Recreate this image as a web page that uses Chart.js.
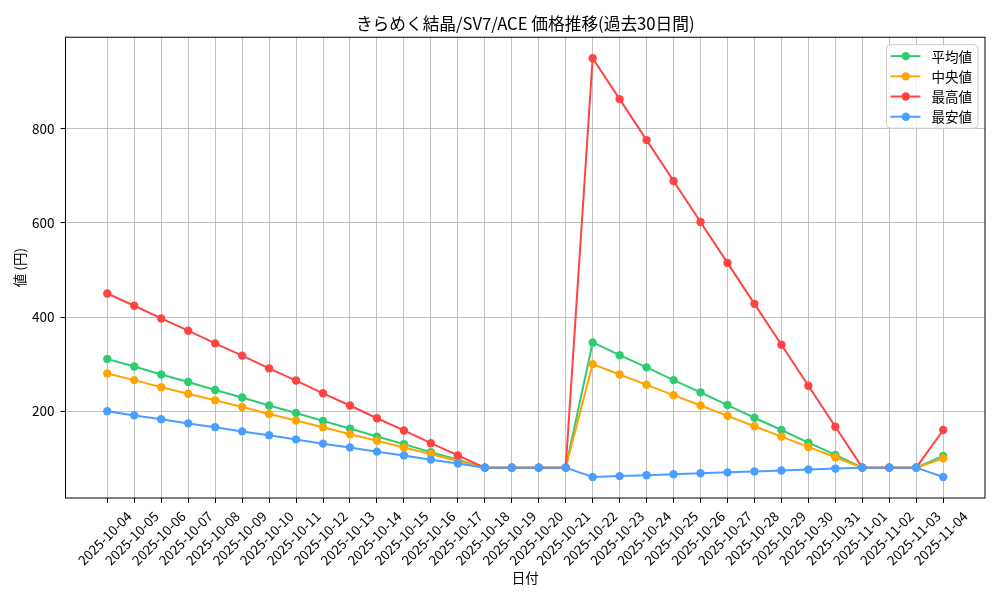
<!DOCTYPE html>
<html>
<head>
<meta charset="utf-8">
<script src="https://cdn.jsdelivr.net/npm/chart.js@4.4.1/dist/chart.umd.min.js"></script>
<style>
html,body{margin:0;padding:0;background:#fff;}
#wrap{width:1000px;height:600px;}
</style>
</head>
<body>
<div id="wrap"><canvas id="c" width="1000" height="600"></canvas></div>
<script>
const dates = ['2025-10-04','2025-10-05','2025-10-06','2025-10-07','2025-10-08','2025-10-09','2025-10-10','2025-10-11','2025-10-12','2025-10-13','2025-10-14','2025-10-15','2025-10-16','2025-10-17','2025-10-18','2025-10-19','2025-10-20','2025-10-21','2025-10-22','2025-10-23','2025-10-24','2025-10-25','2025-10-26','2025-10-27','2025-10-28','2025-10-29','2025-10-30','2025-10-31','2025-11-01','2025-11-02','2025-11-03','2025-11-04'];
const avgValues = [311,295,278,262,245,229,212,196,179,163,146,130,113,97,80,80,80,80,346,319,293,266,240,213,186,160,133,107,80,80,80,105];
const medianValues = [280,266,251,237,223,209,194,180,166,151,137,123,109,94,80,80,80,80,300,278,256,234,212,190,168,146,124,102,80,80,80,100];
const maxValues = [450,424,397,371,344,318,291,265,238,212,185,159,132,106,80,80,80,80,950,863,776,689,602,515,428,341,254,167,80,80,80,160];
const minValues = [200,191,183,174,166,157,149,140,131,123,114,106,97,89,80,80,80,80,60,62,64,66,68,70,72,74,76,78,80,80,80,60];
const yTicks = [200,400,600,800];
const seriesNames = ['平均値','中央値','最高値','最安値'];
const seriesColors = ['#2ecc71','#ffa500','#ff4444','#4a9eff'];
const titleText = 'きらめく結晶/SV7/ACE 価格推移(過去30日間)';
const xTitle = '日付';
const yTitle = '値 (円)';

const FONT = '"Noto Sans CJK JP", "Noto Sans", sans-serif';
const allSeries = [avgValues, medianValues, maxValues, minValues];
const allVals = allSeries.flat();
const dMin = Math.min(...allVals), dMax = Math.max(...allVals);
const yPad = (dMax - dMin) * 0.05;
const xPad = (dates.length - 1) * 0.05;

const datasets = allSeries.map((vals, i) => ({
  label: seriesNames[i],
  data: vals.map((v, k) => ({x: k, y: v})),
  borderColor: seriesColors[i],
  backgroundColor: seriesColors[i],
  pointBackgroundColor: seriesColors[i],
  pointBorderWidth: 0,
  pointRadius: 4.2,
  pointHoverRadius: 4.2,
  borderWidth: 2,
  tension: 0,
  order: 3 - i
}));

const framePlugin = {
  id: 'frame',
  afterDatasetsDraw(chart) {
    const {ctx, chartArea: a} = chart;
    ctx.save();
    ctx.strokeStyle = '#000';
    ctx.lineWidth = 1;
    ctx.strokeRect(a.left, a.top, a.right - a.left, a.bottom - a.top);
    // legend
    const w = 91.5, rowH = 20.2;
    const h = 83.6;
    const x0 = a.right - 7 - w, y0 = a.top + 7.4;
    const r = 4;
    ctx.beginPath();
    ctx.moveTo(x0 + r, y0);
    ctx.arcTo(x0 + w, y0, x0 + w, y0 + h, r);
    ctx.arcTo(x0 + w, y0 + h, x0, y0 + h, r);
    ctx.arcTo(x0, y0 + h, x0, y0, r);
    ctx.arcTo(x0, y0, x0 + w, y0, r);
    ctx.closePath();
    ctx.fillStyle = 'rgba(255,255,255,0.8)';
    ctx.fill();
    ctx.strokeStyle = '#cccccc';
    ctx.lineWidth = 1;
    ctx.stroke();
    ctx.font = '13.5px ' + FONT;
    ctx.textBaseline = 'middle';
    ctx.textAlign = 'left';
    seriesNames.forEach((name, i) => {
      const yy = y0 + 11.5 + i * rowH;
      ctx.strokeStyle = seriesColors[i];
      ctx.lineWidth = 2;
      ctx.beginPath();
      ctx.moveTo(x0 + 4, yy);
      ctx.lineTo(x0 + 34, yy);
      ctx.stroke();
      ctx.fillStyle = seriesColors[i];
      ctx.beginPath();
      ctx.arc(x0 + 19.3, yy, 4.2, 0, Math.PI * 2);
      ctx.fill();
      ctx.fillStyle = '#000';
      ctx.fillText(name, x0 + 45, yy + 0.5);
    });
    ctx.restore();
  }
};

new Chart(document.getElementById('c'), {
  type: 'line',
  data: {datasets},
  options: {
    responsive: false,
    animation: false,
    devicePixelRatio: 1,
    layout: {padding: {left: 0, right: 15, top: 0, bottom: 0}},
    plugins: {
      legend: {display: false},
      tooltip: {enabled: false},
      title: {
        display: true,
        text: titleText,
        fullSize: false,
        color: '#000',
        font: {family: FONT, size: 16.7, weight: 'normal', lineHeight: 1.2},
        padding: {top: 13.5, bottom: 3.7}
      }
    },
    scales: {
      x: {
        type: 'linear',
        min: -xPad,
        max: dates.length - 1 + xPad,
        afterBuildTicks(s) { s.ticks = dates.map((d, i) => ({value: i})); },
        afterFit(s) { s.height = 102; },
        ticks: {
          autoSkip: false,
          minRotation: 45,
          maxRotation: 45,
          labelOffset: 22,
          padding: 5,
          color: '#000',
          font: {family: FONT, size: 13.5},
          callback: (v) => dates[v] !== undefined ? dates[v] : ''
        },
        grid: {color: '#b0b0b0', lineWidth: 0.8, drawTicks: true, tickLength: 5, tickColor: '#000', tickWidth: 1},
        border: {display: false},
        title: {display: true, text: xTitle, color: '#000', font: {family: FONT, size: 13.5}, padding: {top: 0, bottom: 14}}
      },
      y: {
        type: 'linear',
        min: dMin - yPad,
        max: dMax + yPad,
        afterBuildTicks(s) { s.ticks = yTicks.map(v => ({value: v})); },
        afterFit(s) { s.width = 65.5; },
        ticks: {
          color: '#000',
          padding: 6,
          font: {family: FONT, size: 13.5},
          callback: (v) => String(v)
        },
        grid: {color: '#b0b0b0', lineWidth: 0.8, drawTicks: true, tickLength: 5, tickColor: '#000', tickWidth: 1},
        border: {display: false},
        title: {display: true, text: yTitle, color: '#000', font: {family: FONT, size: 13.5}, padding: {top: 12, bottom: 0}}
      }
    }
  },
  plugins: [framePlugin]
});
</script>
</body>
</html>
